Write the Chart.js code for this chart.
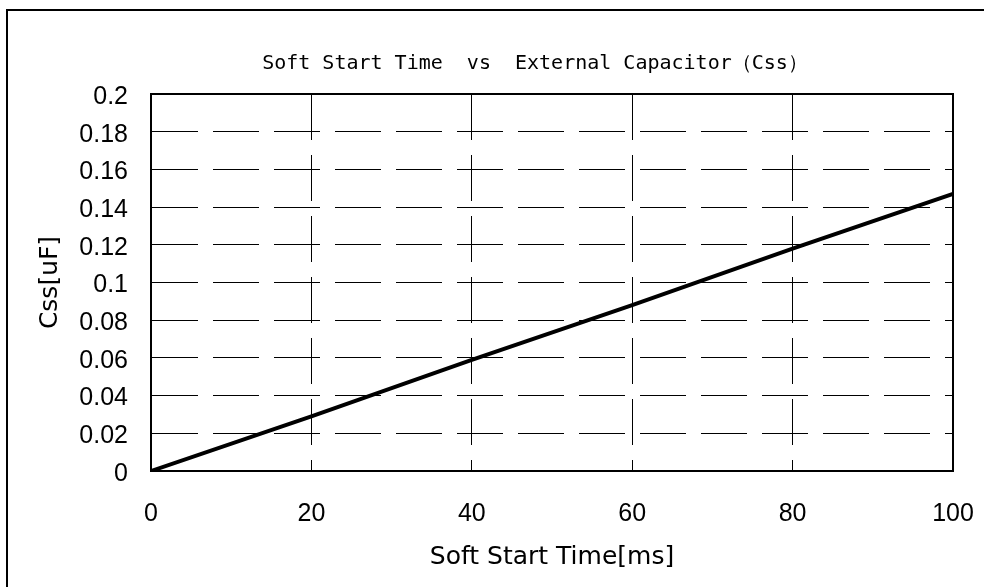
<!DOCTYPE html>
<html>
<head>
<meta charset="utf-8">
<script src="https://cdn.jsdelivr.net/npm/chart.js@4"></script>
<style>
  html, body { margin: 0; padding: 0; background: #fff; }
  #wrap { position: relative; width: 984px; height: 587px; }
</style>
</head>
<body>
<div id="wrap"><canvas id="c" width="984" height="587"></canvas></div>
<script>
// ---- data ----
const softStartTimeMs = [0, 20, 40, 60, 80, 100];
const cssUF = [0, 0.029, 0.059, 0.088, 0.118, 0.147];
const chartTitle = 'Soft Start Time  vs  External Capacitor（Css）';
const xAxisTitle = 'Soft Start Time[ms]';
const yAxisTitle = 'Css[uF]';

const points = softStartTimeMs.map((x, i) => ({ x: x, y: cssUF[i] }));

const framePlugin = {
  id: 'frame',
  beforeDraw(chart) {
    const ctx = chart.ctx;
    ctx.save();
    ctx.fillStyle = '#fff';
    ctx.fillRect(0, 0, chart.width, chart.height);
    ctx.strokeStyle = '#000';
    ctx.lineWidth = 2;
    ctx.strokeRect(7, 10, 1100, 700);
    // title
    ctx.fillStyle = '#000';
    ctx.font = '20px "DejaVu Sans Mono"';
    ctx.textAlign = 'center';
    ctx.textBaseline = 'middle';
    ctx.fillText(chartTitle, 535, 64);
    ctx.restore();
  },
  afterDatasetsDraw(chart) {
    const a = chart.chartArea;
    const ctx = chart.ctx;
    ctx.save();
    ctx.strokeStyle = '#000';
    ctx.lineWidth = 2;
    ctx.strokeRect(a.left, a.top, a.right - a.left, a.bottom - a.top);
    ctx.restore();
  }
};

new Chart(document.getElementById('c'), {
  type: 'line',
  data: {
    datasets: [{
      data: points,
      borderColor: '#000',
      borderWidth: 4,
      pointRadius: 0,
      tension: 0,
      fill: false
    }]
  },
  options: {
    responsive: false,
    animation: false,
    devicePixelRatio: 1,
    layout: { padding: { top: 94, right: 31, left: 0, bottom: 0 } },
    plugins: {
      legend: { display: false },
      title: { display: false },
      tooltip: { enabled: false }
    },
    scales: {
      x: {
        type: 'linear',
        min: 0, max: 100,
        afterFit: (s) => { s.height = 116; s.paddingLeft = 0; s.paddingRight = 0; },
        ticks: {
          stepSize: 20,
          color: '#000',
          font: { family: '"Liberation Sans"', size: 25 },
          padding: 28,
          maxRotation: 0
        },
        grid: { color: '#000', lineWidth: 1, drawTicks: false },
        border: { display: true, color: '#000', width: 2, dash: [46, 15] },
        title: {
          display: true,
          text: xAxisTitle,
          color: '#000',
          font: { family: '"DejaVu Sans"', size: 25 },
          padding: { top: 0, bottom: 15 }
        }
      },
      y: {
        type: 'linear',
        min: 0, max: 0.2,
        afterFit: (s) => { s.width = 151; s.paddingTop = 0; s.paddingBottom = 0; },
        ticks: {
          stepSize: 0.02,
          color: '#000',
          font: { family: '"Liberation Sans"', size: 25 },
          padding: 23,
          labelOffset: 3,
          callback: (v) => String(Math.round(v * 100) / 100)
        },
        grid: { color: '#000', lineWidth: 1, drawTicks: false },
        border: { display: true, color: '#000', width: 2, dash: [46, 15] },
        title: {
          display: true,
          text: yAxisTitle,
          color: '#000',
          font: { family: '"DejaVu Sans"', size: 25 },
          padding: { top: 35, bottom: 0 }
        }
      }
    }
  },
  plugins: [framePlugin]
});
</script>
</body>
</html>
